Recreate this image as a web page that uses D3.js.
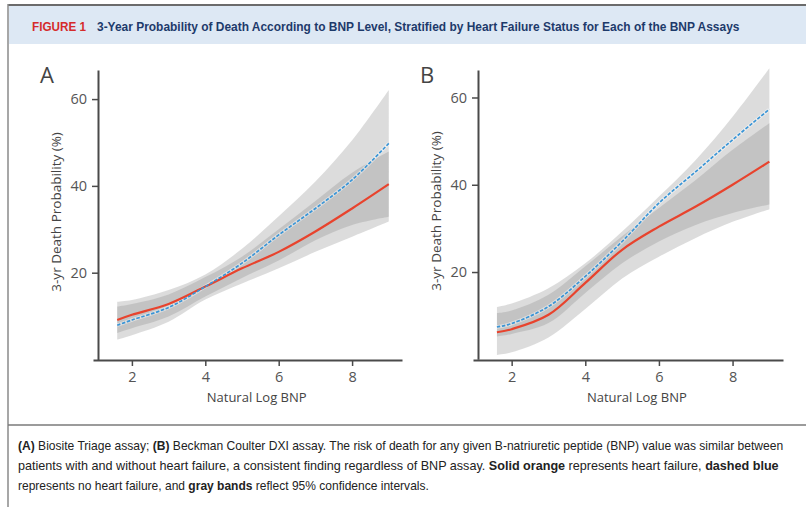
<!DOCTYPE html>
<html><head><meta charset="utf-8">
<script src="https://cdn.jsdelivr.net/npm/d3@7"></script>
<style>
body{margin:0;background:#fff;}
svg{display:block;}
</style></head>
<body>
<svg id="fig" width="806" height="507"></svg>
<script>
// ---------- data ----------
const xs = [1.6, 2, 3, 4, 5, 6, 7, 8, 9];

// Panel A: Biosite Triage
const aHF      = [9.1, 10.3, 12.8, 16.8, 21.0, 24.8, 29.5, 34.8, 40.4];
const aNoHF    = [7.9, 9.1, 12.0, 16.8, 22.2, 28.7, 34.8, 41.4, 49.8];
const aHFLo    = [4.6, 5.6, 8.7, 13.8, 17.5, 21.0, 24.8, 28.3, 31.8];
const aHFHi    = [12.2, 12.8, 15.0, 19.0, 23.7, 30.0, 36.5, 43.0, 47.9];
const aNoHFLo  = [6.1, 7.2, 9.9, 14.5, 18.8, 22.8, 27.5, 31.0, 32.9];
const aNoHFHi  = [13.3, 13.7, 16.0, 19.6, 25.5, 33.0, 41.0, 50.5, 62.1];

// Panel B: Beckman Coulter DXI
const bHF      = [6.2, 6.9, 10.2, 17.5, 25.1, 30.4, 35.0, 40.0, 45.3];
const bNoHF    = [7.4, 8.2, 12.1, 19.0, 27.0, 35.8, 43.0, 50.3, 57.3];
const bHFLo    = [1.0, 1.6, 5.0, 11.5, 18.5, 23.5, 27.8, 31.5, 34.4];
const bHFHi    = [10.6, 11.2, 14.8, 21.3, 28.2, 34.7, 41.1, 48.0, 54.1];
const bNoHFLo  = [5.2, 5.8, 8.3, 15.2, 22.0, 27.0, 30.8, 33.5, 35.5];
const bNoHFHi  = [12.0, 12.8, 16.3, 22.0, 29.3, 37.3, 45.7, 55.6, 66.7];

const xTicks = [2, 4, 6, 8];
const yTicks = [20, 40, 60];
const panelLetters = ["A", "B"];
const xLabel = "Natural Log BNP";
const yLabel = "3-yr Death Probability (%)";
const figLabel = "FIGURE 1";
const figTitle = "3-Year Probability of Death According to BNP Level, Stratified by Heart Failure Status for Each of the BNP Assays";
const captionLines = [
  [["(A)", true], [" Biosite Triage assay; ", false], ["(B)", true], [" Beckman Coulter DXI assay. The risk of death for any given B-natriuretic peptide (BNP) value was similar between", false]],
  [["patients with and without heart failure, a consistent finding regardless of BNP assay. ", false], ["Solid orange", true], [" represents heart failure, ", false], ["dashed blue", true]],
  [["represents no heart failure, and ", false], ["gray bands", true], [" reflect 95% confidence intervals.", false]]
];

// ---------- drawing ----------
const svg = d3.select("#fig");
const narrow = "'Liberation Sans Narrow','Arial Narrow','Liberation Sans',sans-serif";
const sans = "'Open Sans','Noto Sans',sans-serif";

// frame + header
svg.append("rect").attr("x", 9).attr("y", 6).attr("width", 797).attr("height", 38).attr("fill", "#dde8f4");
svg.append("line").attr("x1", 8).attr("x2", 806).attr("y1", 5).attr("y2", 5).attr("stroke", "#6b6b6b").attr("stroke-width", 2);
svg.append("line").attr("x1", 8).attr("x2", 8).attr("y1", 4).attr("y2", 507).attr("stroke", "#8a8a8a").attr("stroke-width", 1.5);
svg.append("line").attr("x1", 8).attr("x2", 806).attr("y1", 425).attr("y2", 425).attr("stroke", "#7a7a7a").attr("stroke-width", 1.5);

// condensed text helper: natural layout, then horizontal scale to target width
function condensed(parent, x, y, size, target, build) {
  const g = parent.append("g");
  const t = g.append("text").attr("x", 0).attr("y", 0)
    .style("font-family", narrow).style("font-size", size + "px");
  build(t);
  const w = t.node().getComputedTextLength();
  const s = target / w;
  g.attr("transform", `translate(${x},${y}) scale(${s},1)`);
  return t;
}

condensed(svg, 32, 31, 12.5, 54, t => t.style("font-weight", "bold").attr("fill", "#d52b2b").text(figLabel));
condensed(svg, 97, 31, 12.5, 643, t => t.style("font-weight", "bold").attr("fill", "#1d3a6b").text(figTitle));

// caption
const capLens = [766, 761, 411];
captionLines.forEach((parts, i) => {
  condensed(svg, 18, 450 + i * 20, 13, capLens[i], t => {
    t.attr("fill", "#222");
    parts.forEach(([s, b]) => t.append("tspan").text(s).style("font-weight", b ? "bold" : "normal"));
  });
});

// panels
const panels = [
  {letter: panelLetters[0], hf: aHF, nohf: aNoHF, hfLo: aHFLo, hfHi: aHFHi, nLo: aNoHFLo, nHi: aNoHFHi,
   xDom: [0.94, 9.36], xRange: [93, 402], yDom: [0, 66.7], yRange: [359.5, 70], axisX: 98, axisY: 360},
  {letter: panelLetters[1], hf: bHF, nohf: bNoHF, hfLo: bHFLo, hfHi: bHFHi, nLo: bNoHFLo, nHi: bNoHFHi,
   xDom: [0.95, 9.37], xRange: [473, 783], yDom: [0, 66.3], yRange: [359.3, 70], axisX: 478, axisY: 360}
];

panels.forEach(p => {
  const g = svg.append("g");
  const x = d3.scaleLinear().domain(p.xDom).range(p.xRange);
  const y = d3.scaleLinear().domain(p.yDom).range(p.yRange);
  const curve = d3.curveCatmullRom.alpha(0.5);

  const area = (lo, hi) => d3.area().curve(curve)
    .x((d, i) => x(xs[i])).y0((d, i) => y(lo[i])).y1((d, i) => y(hi[i]))(xs);
  g.append("path").attr("d", area(p.nLo, p.nHi)).attr("fill", "#8a8a8a").attr("fill-opacity", 0.3);
  g.append("path").attr("d", area(p.hfLo, p.hfHi)).attr("fill", "#8a8a8a").attr("fill-opacity", 0.3);

  const line = d3.line().curve(curve).x((d, i) => x(xs[i])).y(d => y(d));
  g.append("path").attr("d", line(p.nohf)).attr("fill", "none")
    .attr("stroke", "#ffffff").attr("stroke-opacity", 0.45).attr("stroke-width", 3.5);
  g.append("path").attr("d", line(p.hf)).attr("fill", "none")
    .attr("stroke", "#e8432d").attr("stroke-width", 2.2);
  g.append("path").attr("d", line(p.nohf)).attr("fill", "none")
    .attr("stroke", "#3a95d6").attr("stroke-width", 1.7).attr("stroke-dasharray", "3.5,1.6");

  // axes
  const xa = g.append("g").attr("transform", `translate(0,${p.axisY})`)
    .call(d3.axisBottom(x).tickValues(xTicks).tickSize(6).tickSizeOuter(0).tickPadding(6));
  const ya = g.append("g").attr("transform", `translate(${p.axisX},0)`)
    .call(d3.axisLeft(y).tickValues(yTicks).tickSize(6).tickSizeOuter(0).tickPadding(5));
  [xa, ya].forEach(a => {
    a.attr("font-size", null).attr("font-family", null);
    a.select(".domain").attr("stroke", "#4a4a4a").attr("stroke-width", 2);
    a.selectAll(".tick line").attr("stroke", "#4a4a4a").attr("stroke-width", 1.5);
    a.selectAll(".tick text").attr("fill", "#555").style("font-family", sans).style("font-size", "14.5px");
  });

  g.append("text").attr("x", x(5.4)).attr("y", 402).attr("text-anchor", "middle")
    .style("font-family", sans).style("font-size", "13px").attr("fill", "#444").text(xLabel);
  g.append("text").attr("transform", `translate(${p.axisX - 37},${y(34)}) rotate(-90)`)
    .attr("text-anchor", "middle").style("font-family", sans).style("font-size", "13.5px")
    .attr("fill", "#444").text(yLabel);
  g.append("text").attr("x", p.axisX - 58).attr("y", 83)
    .style("font-family", sans).style("font-size", "22px").attr("fill", "#444").text(p.letter);
});
</script>
</body></html>
